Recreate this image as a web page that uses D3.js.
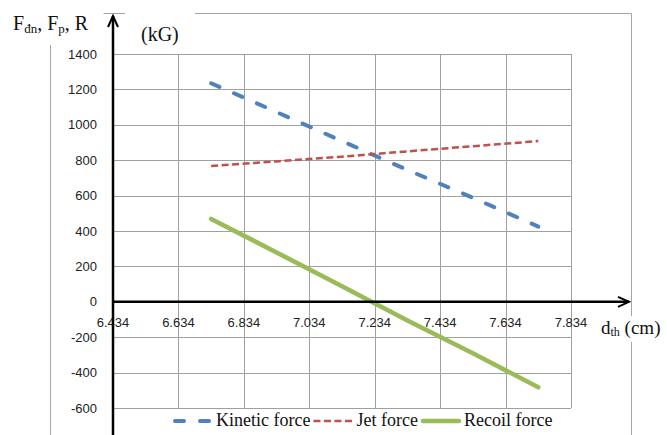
<!DOCTYPE html>
<html>
<head>
<meta charset="utf-8">
<script src="https://cdn.jsdelivr.net/npm/d3@7"></script>
<style>
  body { margin: 0; background: #fff; }
  svg { display: block; }
</style>
</head>
<body>
<svg width="667" height="435"></svg>
<script>
  // chart data
  const xValues = [6.734, 6.934, 7.134, 7.334, 7.534, 7.734];
  const kinetic = [1235, 1072, 908, 745, 588, 425];
  const jet = [767, 793, 820, 850, 879, 908];
  const recoil = [468, 279, 88, -105, -291, -483];

  const xTicks = [6.434, 6.634, 6.834, 7.034, 7.234, 7.434, 7.634, 7.834];
  const yTicks = [-600, -400, -200, 0, 200, 400, 600, 800, 1000, 1200, 1400];
  const seriesNames = ["Kinetic force", "Jet force", "Recoil force"];

  const plotLeft = 113, plotRight = 571, plotTop = 54, plotBottom = 408;

  const svg = d3.select("svg");

  const x = d3.scaleLinear().domain([6.434, 7.834]).range([plotLeft, plotRight]);
  const y = d3.scaleLinear().domain([-600, 1400]).range([plotBottom, plotTop]);

  // outer chart frame (partly hidden behind label boxes)
  const frame = svg.append("g").attr("stroke", "#a6a6a6").attr("stroke-width", 1).attr("fill", "none");
  frame.append("path").attr("d", "M103.5,13.5H125");
  frame.append("path").attr("d", "M195,13.5H631.5V316");
  frame.append("path").attr("d", "M631.5,342V435");
  frame.append("path").attr("d", "M50.5,45V435");

  // grid
  const grid = svg.append("g").attr("stroke", "#a0a0a0").attr("stroke-width", 1);
  grid.selectAll("line.h")
    .data(yTicks)
    .join("line")
      .attr("class", "h")
      .attr("x1", plotLeft).attr("x2", plotRight)
      .attr("y1", d => Math.round(y(d)) + 0.5)
      .attr("y2", d => Math.round(y(d)) + 0.5);
  grid.selectAll("line.v")
    .data(xTicks.slice(1))
    .join("line")
      .attr("class", "v")
      .attr("x1", d => Math.round(x(d)) + 0.5)
      .attr("x2", d => Math.round(x(d)) + 0.5)
      .attr("y1", plotTop).attr("y2", plotBottom);

  // tick labels
  const tickFont = "13px 'Liberation Sans', Arial, sans-serif";
  svg.append("g")
      .style("font", tickFont)
      .attr("fill", "#222")
      .attr("text-anchor", "end")
    .selectAll("text")
    .data(yTicks)
    .join("text")
      .attr("x", 97)
      .attr("y", d => y(d))
      .attr("dy", "0.35em")
      .text(d => d);

  svg.append("g")
      .style("font", tickFont)
      .attr("fill", "#222")
      .attr("text-anchor", "middle")
    .selectAll("text")
    .data(xTicks)
    .join("text")
      .attr("x", d => x(d))
      .attr("y", y(0) + 21)
      .attr("dy", "0.35em")
      .text(d => d.toFixed(3));

  // series lines
  const line = d3.line().x((d, i) => x(xValues[i])).y(d => y(d));
  const styles = [
    { color: "#4f81bd", width: 4, dash: "9,16", cap: "round" },
    { color: "#c0504d", width: 2.5, dash: "7,3.5", cap: "butt" },
    { color: "#9bbb59", width: 4.5, dash: null, cap: "round" }
  ];
  [kinetic, jet, recoil].forEach((s, i) => {
    svg.append("path")
      .datum(s)
      .attr("fill", "none")
      .attr("stroke", styles[i].color)
      .attr("stroke-width", styles[i].width)
      .attr("stroke-dasharray", styles[i].dash)
      .attr("stroke-linecap", styles[i].cap)
      .attr("d", line);
  });

  // axes with arrows
  const axes = svg.append("g").attr("stroke", "#000").attr("fill", "none")
      .attr("stroke-width", 2.5);
  const y0 = y(0);
  axes.append("path").attr("d", `M${plotLeft},435V16`);
  axes.append("path").attr("d", `M${plotLeft - 5},27L${plotLeft},16L${plotLeft + 5},27`).attr("stroke-width", 2);
  axes.append("path").attr("d", `M${plotLeft},${y0}H629`);
  axes.append("path").attr("d", `M618,${y0 - 5}L629,${y0}L618,${y0 + 5}`).attr("stroke-width", 2);

  // axis titles
  const serif = "'Liberation Serif', 'Times New Roman', serif";
  const yt = svg.append("text")
      .attr("x", 13).attr("y", 30)
      .style("font-family", serif).style("font-size", "20px")
      .attr("fill", "#111");
  yt.append("tspan").text("F");
  yt.append("tspan").text("đn").style("font-size", "13px").attr("dy", 3);
  yt.append("tspan").text(", F").attr("dy", -3);
  yt.append("tspan").text("p").style("font-size", "13px").attr("dy", 3);
  yt.append("tspan").text(", R").attr("dy", -3);

  svg.append("text")
      .attr("x", 141).attr("y", 41)
      .style("font-family", serif).style("font-size", "20px")
      .attr("fill", "#111")
      .text("(kG)");

  const xt = svg.append("text")
      .attr("x", 601).attr("y", 334)
      .style("font-family", serif).style("font-size", "19px")
      .attr("fill", "#111");
  xt.append("tspan").text("d");
  xt.append("tspan").text("th").style("font-size", "12px").attr("dy", 2);
  xt.append("tspan").text(" (cm)").attr("dy", -2);

  // legend
  const legend = svg.append("g");
  let lx = 173;
  seriesNames.forEach((name, i) => {
    legend.append("line")
      .attr("x1", lx + (styles[i].cap === "round" ? 2 : 0))
      .attr("x2", lx + 40 - (styles[i].cap === "round" ? 2 : 0))
      .attr("y1", 421).attr("y2", 421)
      .attr("stroke", styles[i].color)
      .attr("stroke-width", styles[i].width)
      .attr("stroke-linecap", styles[i].cap)
      .attr("stroke-dasharray", styles[i].dash);
    const t = legend.append("text")
      .attr("x", lx + 43).attr("y", 426)
      .style("font-family", serif).style("font-size", "18px")
      .attr("fill", "#111")
      .text(name);
    lx += 43 + t.node().getComputedTextLength() + 3;
  });
</script>
</body>
</html>
